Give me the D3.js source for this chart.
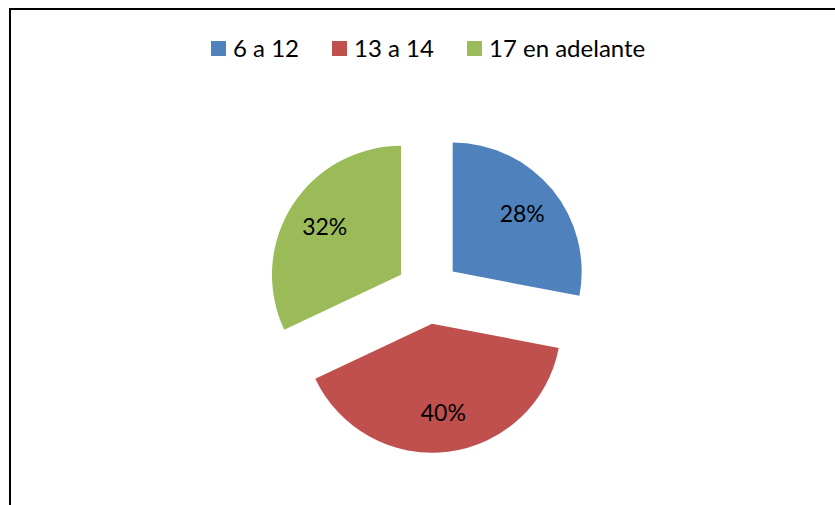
<!DOCTYPE html>
<html>
<head>
<meta charset="utf-8">
<script src="https://cdn.jsdelivr.net/npm/d3@7"></script>
<style>
  body { margin: 0; background: #fff; }
  svg { display: block; }
</style>
</head>
<body>
<div id="chart"></div>
<script>
// data
var categories = ["6 a 12", "13 a 14", "17 en adelante"];
var values = [28, 40, 32];
var colors = ["#4F81BD", "#C0504D", "#9BBB59"];

var width = 835, height = 505;
var cx = 428, cy = 292, radius = 129, explode = 32;
var fontFamily = "Lato, 'Open Sans', sans-serif";

var svg = d3.select("#chart").append("svg")
    .attr("width", width)
    .attr("height", height);

// chart frame (right and bottom edges fall outside the picture)
svg.append("rect")
    .attr("x", 10).attr("y", 9)
    .attr("width", width + 20).attr("height", height + 20)
    .attr("fill", "none")
    .attr("stroke", "#000")
    .attr("stroke-width", 2);

var color = d3.scaleOrdinal().domain(categories).range(colors);

var pie = d3.pie().sort(null).value(function(d) { return d.value; });
var arcs = pie(categories.map(function(c, i) { return {name: c, value: values[i]}; }));

var arc = d3.arc().innerRadius(0).outerRadius(radius);
var labelArc = d3.arc().innerRadius(radius * 0.7).outerRadius(radius * 0.7);

var g = svg.append("g").attr("transform", "translate(" + cx + "," + cy + ")");

var slice = g.selectAll(".slice")
    .data(arcs)
    .enter()
    .append("g")
      .attr("class", "slice")
      .attr("transform", function(d) {
        var a = (d.startAngle + d.endAngle) / 2;
        return "translate(" + (explode * Math.sin(a)) + "," + (-explode * Math.cos(a)) + ")";
      });

slice.append("path")
    .attr("d", arc)
    .attr("fill", function(d) { return color(d.data.name); });

slice.append("text")
    .attr("transform", function(d) { return "translate(" + labelArc.centroid(d) + ")"; })
    .attr("text-anchor", "middle")
    .attr("dy", "0.35em")
    .style("font-family", fontFamily)
    .style("font-size", "23px")
    .style("fill", "#000")
    .text(function(d) { return d.data.value + "%"; });

// legend
var legendX = [211, 332, 467];
var legend = svg.selectAll(".legend")
    .data(categories)
    .enter()
    .append("g")
      .attr("class", "legend")
      .attr("transform", function(d, i) { return "translate(" + legendX[i] + ",41)"; });

legend.append("rect")
    .attr("width", 15).attr("height", 15)
    .attr("fill", function(d) { return color(d); });

legend.append("text")
    .attr("x", 22)
    .attr("y", 16)
    .style("font-family", fontFamily)
    .style("font-size", "24px")
    .style("fill", "#000")
    .text(function(d) { return d; });
</script>
</body>
</html>
